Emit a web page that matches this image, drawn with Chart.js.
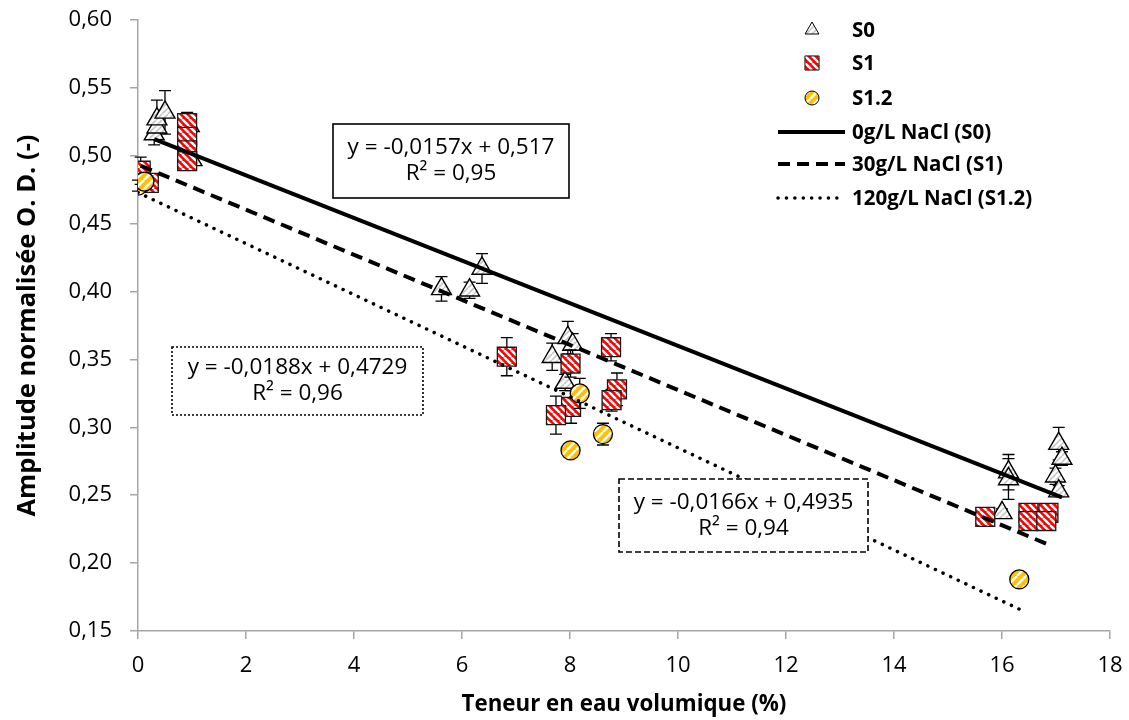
<!DOCTYPE html>
<html>
<head>
<meta charset="utf-8">
<script src="https://cdn.jsdelivr.net/npm/chart.js@4"></script>
<style>
  html, body { margin: 0; padding: 0; background: #fff; }
</style>
</head>
<body>
<canvas id="chart" width="1129" height="720"></canvas>
<script>
// S0 : 0 g/L NaCl
const s0X   = [0.30, 0.35, 0.35, 0.50, 0.95, 1.00, 5.62, 6.14, 6.37, 7.67, 7.96, 8.05, 7.91, 16.12, 16.12, 16.00, 17.05, 17.11, 16.99, 17.05];
const s0Y   = [0.516, 0.521, 0.527, 0.532, 0.522, 0.497, 0.402, 0.401, 0.417, 0.352, 0.366, 0.361, 0.333, 0.267, 0.262, 0.237, 0.288, 0.277, 0.264, 0.253];
const s0Err = [0.008, 0.004, 0.014, 0.016, 0.008, 0.004, 0.009, 0.006, 0.011, 0.010, 0.012, 0.008, 0.006, 0.013, 0.015, 0.003, 0.012, 0.005, 0.006, 0.004];

// S1 : 30 g/L NaCl
const s1X   = [0.05, 0.20, 0.91, 0.91, 0.91, 0.91, 6.83, 8.01, 8.02, 7.74, 8.76, 8.87, 8.77, 15.69, 16.49, 16.86, 16.49, 16.82];
const s1Y   = [0.489, 0.480, 0.524, 0.514, 0.504, 0.496, 0.352, 0.347, 0.315, 0.309, 0.359, 0.328, 0.320, 0.234, 0.237, 0.237, 0.231, 0.231];
const s1Err = [0.010, 0.005, 0.008, 0.004, 0.004, 0.004, 0.014, 0.010, 0.012, 0.014, 0.010, 0.012, 0.008, 0.002, 0.002, 0.002, 0.002, 0.002];

// S1.2 : 120 g/L NaCl
const s12X   = [0.00, 0.12, 8.18, 8.01, 8.61, 16.32];
const s12Y   = [0.478, 0.481, 0.325, 0.283, 0.295, 0.188];
const s12Err = [0.004, 0.006, 0.011, 0.004, 0.008, 0.003];

// linear trend lines (Excel)
const trendLabels = ['0g/L NaCl (S0)', '30g/L NaCl (S1)', '120g/L NaCl (S1.2)'];
const trendSlope = [-0.0157, -0.0166, -0.0188];
const trendIntercept = [0.517, 0.4935, 0.4729];
const trendR2 = ['0,95', '0,94', '0,96'];

const xTicks = [0, 18, 2];
const yTicks = [0.15, 0.60, 0.05];

const FONT = "'Open Sans', sans-serif";
const canvas = document.getElementById('chart');
const ctx = canvas.getContext('2d');

function stripes(bg, fg, dir, size, lw) {
  const c = document.createElement('canvas');
  c.width = c.height = size;
  const g = c.getContext('2d');
  g.fillStyle = bg;
  g.fillRect(0, 0, size, size);
  g.strokeStyle = fg;
  g.lineWidth = lw;
  g.beginPath();
  for (let o = -size; o <= size; o += size) {
    if (dir === '\\') { g.moveTo(o, 0); g.lineTo(o + size, size); }
    else { g.moveTo(o, size); g.lineTo(o + size, 0); }
  }
  g.stroke();
  return ctx.createPattern(c, 'repeat');
}

const triFill = stripes('#ffffff', '#c8c8c8', '/', 6, 1.6);
const sqFill = stripes('#ff0000', '#ffffff', '\\', 7, 2.4);
const circFill = stripes('#ffc000', '#ffffff', '/', 9, 2.6);

const pts = (xs, ys) => xs.map((x, i) => ({ x: x, y: ys[i] }));
function trend(i, xs) {
  const x0 = Math.min(...xs), x1 = Math.max(...xs);
  return [{ x: x0, y: trendIntercept[i] + trendSlope[i] * x0 },
          { x: x1, y: trendIntercept[i] + trendSlope[i] * x1 }];
}
const fmt = (v, d) => v.toFixed(d).replace('.', ',');

// error bars drawn just before each series' markers
const errorBars = {
  id: 'errorBars',
  beforeDatasetDraw(chart, args) {
    const ds = chart.data.datasets[args.index];
    if (!ds.errors) return;
    const { ctx, scales: { x, y } } = chart;
    ctx.save();
    ctx.strokeStyle = '#000';
    ctx.lineWidth = 1.3;
    ds.data.forEach((p, i) => {
      const e = ds.errors[i];
      const px = x.getPixelForValue(p.x);
      const top = y.getPixelForValue(p.y + e);
      const bot = y.getPixelForValue(p.y - e);
      ctx.beginPath();
      ctx.moveTo(px, top); ctx.lineTo(px, bot);
      ctx.moveTo(px - 6, top); ctx.lineTo(px + 6, top);
      ctx.moveTo(px - 6, bot); ctx.lineTo(px + 6, bot);
      ctx.stroke();
    });
    ctx.restore();
  }
};

// legend + equation boxes
const overlay = {
  id: 'overlay',
  afterDraw(chart) {
    const c = chart.ctx;
    const ds = chart.data.datasets;
    c.save();
    c.font = 'bold 20.5px ' + FONT;
    c.textBaseline = 'middle';
    c.textAlign = 'left';
    const marks = [[0, 8, 30], [1, 10, 63], [2, 7, 98]];
    marks.forEach(([i, r, yy]) => {
      const d = ds[i];
      c.fillStyle = d.pointBackgroundColor;
      c.strokeStyle = d.pointBorderColor;
      Chart.helpers.drawPoint(c, { pointStyle: d.pointStyle, radius: r, rotation: 0, borderWidth: d.pointBorderWidth }, 812, yy);
      c.fillStyle = '#000';
      c.fillText(d.label, 852, yy + 1);
    });
    const lines = [[3, 132], [4, 164], [5, 198]];
    lines.forEach(([i, yy]) => {
      const d = ds[i];
      c.strokeStyle = '#000';
      c.lineWidth = d.borderWidth;
      c.lineCap = d.borderCapStyle || 'butt';
      c.setLineDash(d.borderDash || []);
      c.beginPath();
      c.moveTo(778, yy); c.lineTo(845, yy);
      c.stroke();
      c.setLineDash([]);
      c.fillStyle = '#000';
      c.fillText(d.label, 852, yy + 1);
    });

    const boxes = [
      { i: 0, x: 333, y: 124, w: 236, h: 74, dash: [] },
      { i: 2, x: 172, y: 347, w: 251, h: 68, dash: [2, 2] },
      { i: 1, x: 619, y: 479, w: 249, h: 73, dash: [6, 3] }
    ];
    c.font = '22.5px ' + FONT;
    c.textAlign = 'center';
    boxes.forEach(b => {
      c.fillStyle = '#fff';
      c.fillRect(b.x, b.y, b.w, b.h);
      c.strokeStyle = '#000';
      c.lineWidth = 1.6;
      c.lineCap = 'butt';
      c.setLineDash(b.dash);
      c.strokeRect(b.x, b.y, b.w, b.h);
      c.setLineDash([]);
      c.fillStyle = '#000';
      const d = String(trendIntercept[b.i]).split('.')[1].length;
      const t1 = 'y = ' + fmt(trendSlope[b.i], 4) + 'x + ' + fmt(trendIntercept[b.i], d);
      c.fillText(t1, b.x + b.w / 2, b.y + b.h / 2 - 13);
      c.fillText('R\u00B2 = ' + trendR2[b.i], b.x + b.w / 2, b.y + b.h / 2 + 13);
    });
    c.restore();
  }
};

new Chart(ctx, {
  type: 'scatter',
  data: {
    datasets: [
      { label: 'S0', data: pts(s0X, s0Y), errors: s0Err, order: 6,
        pointStyle: 'triangle', pointRadius: 11.5, pointBackgroundColor: triFill,
        pointBorderColor: '#000', pointBorderWidth: 1.4 },
      { label: 'S1', data: pts(s1X, s1Y), errors: s1Err, order: 5,
        pointStyle: 'rect', pointRadius: 13.4, pointBackgroundColor: sqFill,
        pointBorderColor: '#1a1a1a', pointBorderWidth: 1.3 },
      { label: 'S1.2', data: pts(s12X, s12Y), errors: s12Err, order: 4,
        pointStyle: 'circle', pointRadius: 9.5, pointBackgroundColor: circFill,
        pointBorderColor: '#000', pointBorderWidth: 1.3 },
      { label: trendLabels[0], data: trend(0, s0X), order: 3, showLine: true, pointRadius: 0,
        borderColor: '#000', borderWidth: 4 },
      { label: trendLabels[1], data: trend(1, s1X), order: 2, showLine: true, pointRadius: 0,
        borderColor: '#000', borderWidth: 4, borderDash: [12, 7] },
      { label: trendLabels[2], data: trend(2, s12X), order: 1, showLine: true, pointRadius: 0,
        borderColor: '#000', borderWidth: 3.5, borderDash: [0.1, 8.3], borderCapStyle: 'round' }
    ]
  },
  options: {
    responsive: false,
    animation: false,
    layout: { padding: { top: 20, right: 19, bottom: 0, left: 0 } },
    plugins: { legend: { display: false }, tooltip: { enabled: false } },
    scales: {
      x: {
        type: 'linear', min: xTicks[0], max: xTicks[1],
        afterFit(s) { s.height = 89; s.paddingLeft = 0; s.paddingRight = 12; },
        ticks: { stepSize: xTicks[2], padding: 14, color: '#000', font: { family: FONT, size: 22 } },
        grid: { drawOnChartArea: false, drawTicks: true, tickLength: 8, color: '#a6a6a6', lineWidth: 1.5 },
        border: { color: '#a6a6a6', width: 1.5 },
        title: { display: true, text: 'Teneur en eau volumique (%)', color: '#000',
          font: { family: FONT, size: 22.3, weight: 'bold' }, padding: { top: 0, bottom: 2 } }
      },
      y: {
        min: yTicks[0], max: yTicks[1],
        afterFit(s) { s.width = 138; s.paddingTop = 13; s.paddingBottom = 13; },
        ticks: { stepSize: yTicks[2], padding: 18, color: '#000', font: { family: FONT, size: 22 },
          callback: v => fmt(v, 2) },
        grid: { drawOnChartArea: false, drawTicks: true, tickLength: 8, color: '#a6a6a6', lineWidth: 1.5 },
        border: { color: '#a6a6a6', width: 1.5 },
        title: { display: true, text: 'Amplitude normalisée O. D. (-)', color: '#000',
          font: { family: FONT, size: 25.5, weight: 'bold' }, padding: { top: 12, bottom: 0 } }
      }
    }
  },
  plugins: [errorBars, overlay]
});
</script>
</body>
</html>
